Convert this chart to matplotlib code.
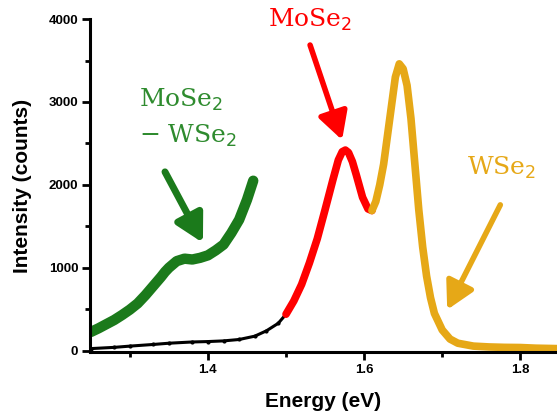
import matplotlib
matplotlib.use("Agg")
import matplotlib.pyplot as plt
from matplotlib.ticker import MultipleLocator

# ---- data ----
green_x = [1.25, 1.26, 1.27, 1.28, 1.29, 1.30, 1.31, 1.32, 1.33, 1.34, 1.345, 1.35, 1.36, 1.37,
           1.38, 1.39, 1.40, 1.41, 1.42, 1.43, 1.44, 1.45, 1.458]
green_y = [225, 270, 320, 370, 430, 495, 570, 670, 780, 890, 950, 1000, 1080, 1110,
           1100, 1120, 1150, 1210, 1280, 1420, 1580, 1820, 2050]

black_x = [1.25, 1.28, 1.30, 1.33, 1.35, 1.38, 1.40, 1.42, 1.44, 1.46, 1.475, 1.49, 1.50]
black_y = [25, 40, 55, 75, 90, 105, 110, 118, 135, 175, 240, 330, 440]

red_x = [1.50, 1.51, 1.52, 1.53, 1.54, 1.55, 1.56, 1.567, 1.572, 1.576, 1.58, 1.585, 1.59,
         1.598, 1.605, 1.61]
red_y = [440, 600, 800, 1060, 1350, 1700, 2060, 2300, 2400, 2420, 2390, 2280, 2120,
         1850, 1710, 1690]

yel_x = [1.61, 1.615, 1.62, 1.625, 1.63, 1.635, 1.64, 1.645, 1.65, 1.655, 1.66, 1.665,
         1.67, 1.675, 1.68, 1.685, 1.69, 1.70, 1.71, 1.72, 1.74, 1.76, 1.78, 1.80, 1.82, 1.847]
yel_y = [1690, 1800, 2000, 2250, 2600, 2950, 3300, 3460, 3400, 3200, 2800, 2250,
         1700, 1250, 900, 640, 450, 250, 140, 90, 55, 45, 40, 38, 30, 25]

x_ticks = [1.4, 1.6, 1.8]
y_ticks = [0, 1000, 2000, 3000, 4000]

GREEN = "#1b7a1b"
GREEN_T = "#2e8b2e"
RED = "#ff0000"
YEL = "#e6a817"

fig = plt.figure(figsize=(5.57, 4.15), dpi=100)
ax = fig.add_axes([0.1616, 0.152, 0.8384, 0.802])

ax.plot(green_x, green_y, color=GREEN, lw=7.5, solid_capstyle="round", solid_joinstyle="round")
ax.plot(black_x, black_y, color="black", lw=2.2, marker="o", ms=2, solid_capstyle="round")
ax.plot(red_x, red_y, color=RED, lw=5.5, solid_capstyle="round", solid_joinstyle="round")
ax.plot(yel_x, yel_y, color=YEL, lw=5.5, solid_capstyle="round", solid_joinstyle="round")

ax.set_xlim(1.249, 1.847)
ax.set_ylim(-15, 4000)

for side in ["top", "right"]:
    ax.spines[side].set_visible(False)
for side in ["left", "bottom"]:
    ax.spines[side].set_linewidth(2.2)

ax.set_xticks(x_ticks)
ax.set_yticks(y_ticks)
ax.xaxis.set_minor_locator(MultipleLocator(0.1))
ax.yaxis.set_minor_locator(MultipleLocator(500))
ax.tick_params(which="major", direction="out", length=5.5, width=2, labelsize=9.5, pad=3)
ax.tick_params(which="minor", direction="out", length=3.5, width=2)
for lab in ax.get_xticklabels() + ax.get_yticklabels():
    lab.set_fontfamily("Liberation Sans")
    lab.set_fontweight("bold")

ax.set_xlabel("Energy (eV)", fontsize=15, fontweight="bold", family="Liberation Sans", labelpad=12)
ax.set_ylabel("Intensity (counts)", fontsize=15, fontweight="bold", family="Liberation Sans", labelpad=12)

tfont = dict(family="DejaVu Serif", fontsize=18)
ax.text(1.3654, 2940, "MoSe$_2$", color=GREEN_T, ha="center", va="baseline", **tfont)
ax.text(1.375, 2506, "− WSe$_2$", color=GREEN_T, ha="center", va="baseline", **tfont)
ax.text(1.5314, 3904, "MoSe$_2$", color=RED, ha="center", va="baseline", **tfont)
ax.text(1.7756, 2120, "WSe$_2$", color=YEL, ha="center", va="baseline", **tfont)


def arrow(start, tip, color, lw):
    ax.annotate("", xy=tip, xytext=start,
                arrowprops=dict(arrowstyle="-|>,head_length=1.1,head_width=0.6",
                                mutation_scale=15, lw=lw, color=color,
                                shrinkA=0, shrinkB=0, capstyle="round"))


arrow((1.345, 2157), (1.3936, 1301), GREEN, 5)
arrow((1.5308, 3687), (1.5718, 2542), RED, 4)
arrow((1.7744, 1759), (1.7064, 494), YEL, 4)

fig.savefig("out.png", dpi=100)
